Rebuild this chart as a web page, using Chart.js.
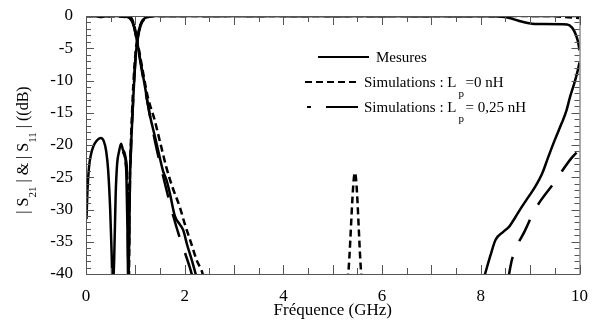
<!DOCTYPE html>
<html>
<head>
<meta charset="utf-8">
<script src="https://cdn.jsdelivr.net/npm/chart.js@4"></script>
<style>
  html, body { margin: 0; padding: 0; background: #fff; }
  #wrap { width: 592px; height: 325px; }
</style>
</head>
<body>
<div id="wrap"><canvas id="sChart"></canvas></div>
<script>
// axis ticks
const xTicks = [0, 2, 4, 6, 8, 10];
const yTicks = [0, -5, -10, -15, -20, -25, -30, -35, -40];

// measured |S21| (GHz, dB)
const measS21F  = [0.01, 0.03, 0.06, 0.10, 0.15, 0.22, 0.30, 0.36, 0.41, 0.45, 0.49, 0.52, 0.54, 0.57, 0.60, 0.63, 0.67, 0.71, 0.75, 0.79, 0.82, 0.84, 0.855, 0.875, 0.89, 0.92, 0.95, 0.98, 1.01, 1.04, 1.08, 1.12, 1.18, 1.28, 1.40, 8.30, 8.60, 8.75, 8.95, 9.10, 9.75, 9.85, 9.92, 9.97, 10.0];
const measS21dB = [-31.5, -27, -23.5, -21.5, -20.2, -19.3, -18.9, -19.4, -21, -24, -30, -37, -42, -38, -28, -23, -21, -19.8, -20.8, -21.5, -25, -33, -41, -35, -26, -19, -14, -9.5, -6, -3.8, -2, -1, -0.4, -0.1, 0, -0.05, -0.35, -0.7, -1.1, -1.25, -1.3, -1.8, -2.8, -4, -5.3];

// measured |S11|
const measS11F  = [0, 0.2, 0.3, 0.4, 0.6, 0.8, 0.88, 0.93, 0.97, 1.00, 1.03, 1.06, 1.10, 1.15, 1.20, 1.25, 1.30, 1.40, 1.49, 1.56, 1.63, 1.70, 1.80, 1.90, 1.97, 2.05, 2.15, 2.24, 5.0, 8.05, 8.09, 8.20, 8.30, 8.45, 8.57, 8.70, 8.83, 8.97, 9.10, 9.25, 9.37, 9.50, 9.64, 9.73, 9.81, 9.88, 9.95, 10.0];
const measS11dB = [0, 0, -0.15, 0, 0, -0.1, -0.3, -0.8, -1.6, -2.6, -3.7, -5, -6.8, -9, -11.2, -13.5, -15.6, -18.8, -21.8, -24, -25.4, -27.5, -31, -32.3, -33.2, -35.5, -38, -40.5, null, -41, -39.9, -37, -34.7, -33.5, -32.7, -31.2, -29.6, -28, -26.5, -24.3, -21.8, -19.2, -16.6, -14.8, -12.5, -10.8, -8.9, -7.2];

// simulation Lp = 0 nH
const sim0S21F  = [0.75, 0.80, 0.84, 0.86, 0.87, 0.88, 0.90, 0.93, 0.96, 1.00, 1.04, 1.10, 1.20, 1.35, 1.50, 9.30, 10.0];
const sim0S21dB = [-21, -22.5, -27, -35, -41, -30, -22, -15.5, -10.5, -6, -3.5, -1.5, -0.4, -0.05, 0, 0, -0.3];
const sim0S11F  = [0, 0.90, 0.95, 1.00, 1.05, 1.08, 1.15, 1.25, 1.39, 1.50, 1.63, 1.75, 1.90, 2.00, 2.13, 2.25, 2.34, 2.40, 4.0, 5.30, 5.32, 5.45, 5.58, 5.60];
const sim0S11dB = [0, -0.2, -0.8, -2.2, -4.3, -5.5, -8.5, -12.5, -16.1, -19.5, -23.5, -26.5, -29.6, -32.2, -35.2, -38, -39.4, -41, null, -41, -39.4, -24.3, -40.2, -41];

// simulation Lp = 0,25 nH
const sim25S21F  = [0.75, 0.80, 0.84, 0.86, 0.88, 0.91, 0.95, 1.00, 1.05, 1.12, 1.25, 1.40, 10.0];
const sim25S21dB = [-21, -22, -26, -41, -30, -21, -14, -7, -3.5, -1.2, -0.2, 0, 0];
const sim25S11F  = [0, 0.90, 0.97, 1.05, 1.20, 1.40, 1.60, 1.75, 1.90, 2.00, 2.10, 2.18, 5.0, 8.55, 8.63, 8.90, 9.10, 9.47, 9.84, 10.0];
const sim25S11dB = [0, -0.2, -1.5, -4.8, -11.5, -19.5, -26, -30.5, -34.4, -36.6, -38.9, -41, null, -41, -37.8, -33.2, -30, -26, -22, -20.7];

const SERIF = "'Liberation Serif', 'Times New Roman', serif";

function pts(f, db) {
    return f.map((x, i) => ({ x: x, y: db[i] }));
}

function lineSet(f, db, dash) {
    return {
        data: pts(f, db),
        borderColor: '#000',
        borderWidth: 2.5,
        borderDash: dash,
        pointRadius: 0,
        cubicInterpolationMode: 'monotone',
        spanGaps: false,
        fill: false
    };
}

// inward tick marks on the four sides of the frame
const frameTicks = {
    id: 'frameTicks',
    afterDraw(chart) {
        const ctx = chart.ctx;
        const a = chart.chartArea;
        const xs = chart.scales.x, ys = chart.scales.y;
        ctx.save();
        ctx.setLineDash([]);
        ctx.strokeStyle = '#555';
        ctx.lineWidth = 1;
        ctx.beginPath();
        for (let v = 0; v <= 10; v += 0.5) {
            const px = Math.round(xs.getPixelForValue(v)) + 0.5;
            const len = Number.isInteger(v) ? 9 : 6;
            ctx.moveTo(px, a.bottom); ctx.lineTo(px, a.bottom - len);
            ctx.moveTo(px, a.top); ctx.lineTo(px, a.top + len);
        }
        for (let v = 0; v >= -40; v -= 1) {
            const py = Math.round(ys.getPixelForValue(v)) + 0.5;
            const len = v % 5 === 0 ? 8 : 5;
            ctx.moveTo(a.left, py); ctx.lineTo(a.left + len, py);
            ctx.moveTo(a.right, py); ctx.lineTo(a.right - len, py);
        }
        ctx.stroke();
        ctx.strokeRect(a.left + 0.5, a.top + 0.5, a.right - a.left, a.bottom - a.top);
        ctx.restore();
    }
};

// legend and y title with subscripts
const textBits = {
    id: 'textBits',
    afterDraw(chart) {
        const ctx = chart.ctx;
        ctx.save();
        ctx.setLineDash([]);
        ctx.fillStyle = '#000';
        ctx.strokeStyle = '#000';
        ctx.lineWidth = 2;
        ctx.textBaseline = 'middle';
        ctx.textAlign = 'left';
        const main = "15px " + SERIF, sub = "11px " + SERIF;

        // Mesures
        ctx.beginPath(); ctx.moveTo(318, 57); ctx.lineTo(369, 57); ctx.stroke();
        ctx.font = main;
        ctx.fillText('Mesures', 376, 58);

        // Lp = 0
        ctx.setLineDash([7, 4]);
        ctx.beginPath(); ctx.moveTo(305, 82); ctx.lineTo(359, 82); ctx.stroke();
        ctx.setLineDash([]);
        ctx.fillText('Simulations : L', 364, 83);
        let w = ctx.measureText('Simulations : L').width;
        ctx.font = sub;
        ctx.fillText('p', 364 + w + 2, 94);
        ctx.font = main;
        ctx.fillText('=0 nH', 364 + w + 9, 83);

        // Lp = 0,25
        ctx.beginPath(); ctx.moveTo(307, 107); ctx.lineTo(311, 107); ctx.stroke();
        ctx.beginPath(); ctx.moveTo(326, 107); ctx.lineTo(358, 107); ctx.stroke();
        ctx.fillText('Simulations : L', 364, 108);
        ctx.font = sub;
        ctx.fillText('p', 364 + w + 2, 119);
        ctx.font = main;
        ctx.fillText('= 0,25 nH', 364 + w + 9, 108);

        // y title, rotated
        const parts = [['| ', 0], ['S', 0], ['21', 1], [' | & | ', 0], ['S', 0], ['11', 1], [' | ((dB)', 0]];
        const big = "16px " + SERIF;
        let total = 0;
        parts.forEach(p => { ctx.font = p[1] ? sub : big; total += ctx.measureText(p[0]).width; });
        ctx.translate(24, 150);
        ctx.rotate(-Math.PI / 2);
        let x = -total / 2;
        parts.forEach(p => {
            ctx.font = p[1] ? sub : big;
            ctx.fillText(p[0], x, p[1] ? 9 : 0);
            x += ctx.measureText(p[0]).width;
        });
        ctx.restore();
    }
};

const sCtx = document.getElementById('sChart').getContext('2d');
const sChart = new Chart(sCtx, {
    type: 'line',
    data: {
        datasets: [
            lineSet(sim0S21F, sim0S21dB, [7, 4]),
            lineSet(sim0S11F, sim0S11dB, [7, 4]),
            lineSet(sim25S21F, sim25S21dB, [24, 17]),
            lineSet(sim25S11F, sim25S11dB, [24, 17]),
            lineSet(measS21F, measS21dB, []),
            lineSet(measS11F, measS11dB, [])
        ]
    },
    options: {
        responsive: true,
        maintainAspectRatio: false,
        animation: false,
        layout: { padding: { left: 0, right: 11, top: 16, bottom: 0 } },
        plugins: {
            legend: { display: false },
            tooltip: { enabled: false }
        },
        scales: {
            x: {
                type: 'linear',
                min: 0,
                max: 10,
                grid: { display: false },
                border: { display: false },
                afterBuildTicks: (scale) => { scale.ticks = xTicks.map(v => ({ value: v })); },
                afterFit: (scale) => { scale.height = 51; },
                ticks: {
                    color: '#000',
                    padding: 4,
                    maxRotation: 0,
                    font: { family: SERIF, size: 17 }
                },
                title: {
                    display: true,
                    text: 'Fréquence (GHz)',
                    color: '#000',
                    padding: { top: 0, bottom: 4 },
                    font: { family: SERIF, size: 17 }
                }
            },
            y: {
                type: 'linear',
                min: -40,
                max: 0,
                grid: { display: false },
                border: { display: false },
                afterBuildTicks: (scale) => { scale.ticks = yTicks.map(v => ({ value: v })); },
                afterFit: (scale) => { scale.width = 86; },
                ticks: {
                    color: '#000',
                    padding: 5,
                    font: { family: SERIF, size: 17 }
                }
            }
        }
    },
    plugins: [frameTicks, textBits]
});
</script>
</body>
</html>
